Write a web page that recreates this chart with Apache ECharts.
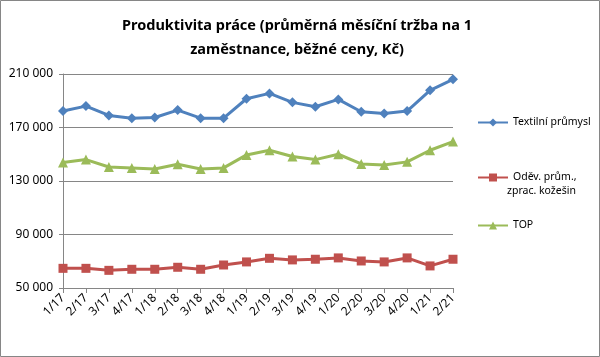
<!DOCTYPE html>
<html><head><meta charset="utf-8">
<script src="https://cdn.jsdelivr.net/npm/echarts@6/dist/echarts.min.js"></script>
<style>html,body{margin:0;padding:0;background:#fff}#c{width:600px;height:357px}</style>
</head><body><div id="c"></div>
<script>
var categories = ['1/17','2/17','3/17','4/17','1/18','2/18','3/18','4/18','1/19','2/19','3/19','4/19','1/20','2/20','3/20','4/20','1/21','2/21'];
var textil = [182300,186000,179000,177000,177500,183000,177000,177000,191500,195500,188800,185500,191000,181800,180500,182300,197800,206000];
var odev = [64700,64700,63200,64000,64000,65500,64000,67200,69500,72200,71000,71500,72500,70200,69500,72500,66500,71500];
var top_ = [143800,146000,140500,139800,139000,142500,139000,139800,149500,153000,148300,146000,150000,142800,142000,144300,153000,159500];
var seriesNames = ['Textilní průmysl','Oděv. prům., zprac. kožešin','TOP'];
var yTicks = {min:50000, max:210000, interval:40000};
var titleLines = ['Produktivita práce (průměrná měsíční tržba na 1','zaměstnance, běžné ceny, Kč)'];

var font = 'Noto Sans';
var chart = echarts.init(document.getElementById('c'));
function fmt(v){ return String(v).replace(/\B(?=(\d{3})+(?!\d))/g,' '); }
function legendItem(name, top, fmtText){
  return {orient:'vertical', left:472, top:top, itemWidth:30, itemHeight:10, data:[name],
    formatter: fmtText ? function(){return fmtText;} : undefined,
    textStyle:{fontFamily:font, fontSize:10.5, color:'#000'}, itemGap:4};
}
chart.setOption({
  animation:false,
  title:{text:titleLines.join('\n'), left:292, textAlign:'center', top:9,
    textStyle:{fontFamily:font, fontSize:14.5, fontWeight:'bold', color:'#000', lineHeight:24}},
  legend:[legendItem(seriesNames[0],112), legendItem(seriesNames[1],167,'Oděv. prům.,'), legendItem(seriesNames[2],215)],
  graphic:[
    {type:'rect', shape:{x:0.5,y:0.5,width:599,height:356}, style:{fill:'none', stroke:'#868686', lineWidth:1}},
    {type:'text', left:507, top:186, style:{text:'zprac. kožešin', font:'10.5px "Noto Sans"', fill:'#000'}}
  ],
  grid:{left:63, right:147, top:74, bottom:69},
  xAxis:{type:'category', data:categories, boundaryGap:false,
    axisLine:{lineStyle:{color:'#868686'}}, axisTick:{length:5, lineStyle:{color:'#868686'}},
    axisLabel:{rotate:45, fontFamily:font, fontSize:12, color:'#000', margin:8}},
  yAxis:{type:'value', min:yTicks.min, max:yTicks.max, interval:yTicks.interval,
    axisLine:{show:true, lineStyle:{color:'#868686'}}, axisTick:{show:true, length:4, lineStyle:{color:'#868686'}},
    splitLine:{lineStyle:{color:'#868686'}},
    axisLabel:{formatter:fmt, fontFamily:font, fontSize:12, color:'#000', margin:10}},
  series:[
    {name:seriesNames[0], type:'line', data:textil, symbol:'diamond', symbolSize:10, itemStyle:{color:'#4F81BD'}, lineStyle:{width:3, color:'#4F81BD'}},
    {name:seriesNames[1], type:'line', data:odev, symbol:'rect', symbolSize:9, itemStyle:{color:'#C0504D'}, lineStyle:{width:3, color:'#C0504D'}},
    {name:seriesNames[2], type:'line', data:top_, symbol:'triangle', symbolSize:10, itemStyle:{color:'#9BBB59'}, lineStyle:{width:3, color:'#9BBB59'}}
  ]
});
</script></body></html>
